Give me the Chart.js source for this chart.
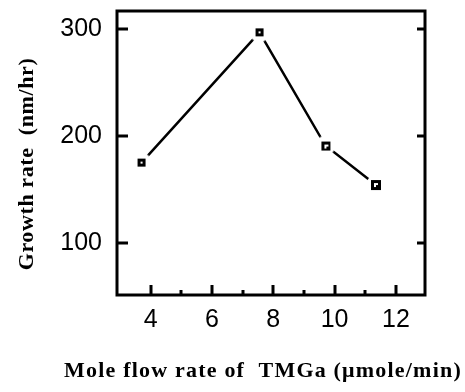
<!DOCTYPE html>
<html>
<head>
<meta charset="utf-8">
<script src="https://cdn.jsdelivr.net/npm/chart.js@4.4.1/dist/chart.umd.min.js"></script>
<style>
html,body{margin:0;padding:0;background:#fff;}
</style>
</head>
<body>
<canvas id="growthChart" width="465" height="392"></canvas>
<script>
// Growth rate against TMGa mole flow rate
const flowRates = [3.7, 7.55, 9.7, 11.35];
const growthRates = [175, 297, 191, 154];
const xTicks = [4, 6, 8, 10, 12];
const xMinorTicks = [5, 7, 9, 11];
const yTicks = [100, 200, 300];
const xTitle = 'Mole flow rate of  TMGa (\u03bcmole/min)';
const yTitle = 'Growth rate  (nm/hr)';

const tickFont = {family: '"Liberation Sans", Arial, sans-serif', size: 25};
const titleFont = 'bold 22px "Liberation Serif", "Times New Roman", serif';

// small black square marker, white halo keeps the line off the square
function makeMarker(size, notch){
  const c = document.createElement('canvas');
  c.width = 22; c.height = 22;
  const g = c.getContext('2d');
  g.fillStyle = '#fff';
  g.beginPath(); g.arc(11, 11, 10, 0, Math.PI*2); g.fill();
  const o = Math.round(11 - size/2);
  g.fillStyle = '#000';
  g.fillRect(o, o, size, size);
  g.fillStyle = '#fff';
  if(notch){
    g.fillRect(o+3, o+3, 4, 2);
    g.fillRect(o+3, o+3, 2, 4);
  }else{
    g.fillRect(o+3, o+3, 2, 2);
  }
  return c;
}

const markers = [makeMarker(8,false), makeMarker(8,false), makeMarker(9,true), makeMarker(10,true)];

// frame, inward ticks and axis titles
const framePlugin = {
  id: 'frame',
  afterDraw(chart){
    const {ctx, chartArea:a, scales:{x, y}} = chart;
    ctx.save();
    ctx.strokeStyle = '#000';
    ctx.lineWidth = 3;
    ctx.strokeRect(a.left, a.top, a.right - a.left, a.bottom - a.top);
    ctx.beginPath();
    yTicks.forEach(v=>{
      const py = Math.round(y.getPixelForValue(v));
      ctx.moveTo(a.left, py); ctx.lineTo(a.left + 11, py);
      ctx.moveTo(a.right, py); ctx.lineTo(a.right - 8, py);
    });
    xTicks.forEach(v=>{
      const px = Math.round(x.getPixelForValue(v));
      ctx.moveTo(px, a.bottom); ctx.lineTo(px, a.bottom - 10);
    });
    xMinorTicks.forEach(v=>{
      const px = Math.round(x.getPixelForValue(v));
      ctx.moveTo(px, a.bottom); ctx.lineTo(px, a.bottom - 5);
    });
    ctx.stroke();

    ctx.fillStyle = '#000';
    ctx.font = titleFont;
    ctx.textAlign = 'center';
    ctx.textBaseline = 'alphabetic';
    ctx.letterSpacing = '1.2px';
    ctx.fillText(xTitle, 263, 377);
    ctx.letterSpacing = '0.6px';
    ctx.translate(33, 164);
    ctx.rotate(-Math.PI/2);
    ctx.fillText(yTitle, 0, 0);
    ctx.restore();
  }
};

new Chart(document.getElementById('growthChart'), {
  type: 'line',
  data: {
    datasets: [{
      data: flowRates.map((f, i) => ({x: f, y: growthRates[i]})),
      borderColor: '#000',
      borderWidth: 2.5,
      fill: false,
      tension: 0,
      pointStyle: markers,
      pointRadius: 5
    }]
  },
  options: {
    responsive: false,
    animation: false,
    devicePixelRatio: 1,
    layout: {padding: {left: 0, right: 40, top: 11, bottom: 0}},
    plugins: {legend: {display: false}, tooltip: {enabled: false}},
    scales: {
      x: {
        type: 'linear',
        min: 2.9,
        max: 12.95,
        afterBuildTicks: s => { s.ticks = xTicks.map(v => ({value: v})); },
        afterFit: s => { s.height = 97; s.paddingLeft = 0; s.paddingRight = 0; },
        grid: {display: false, drawTicks: false},
        border: {display: false},
        ticks: {color: '#000', font: tickFont, padding: 10, maxRotation: 0}
      },
      y: {
        min: 51,
        max: 317,
        afterBuildTicks: s => { s.ticks = yTicks.map(v => ({value: v})); },
        afterFit: s => { s.width = 117; s.paddingTop = 0; s.paddingBottom = 0; },
        grid: {display: false, drawTicks: false},
        border: {display: false},
        ticks: {color: '#000', font: tickFont, padding: 15}
      }
    }
  },
  plugins: [framePlugin]
});
</script>
</body>
</html>
